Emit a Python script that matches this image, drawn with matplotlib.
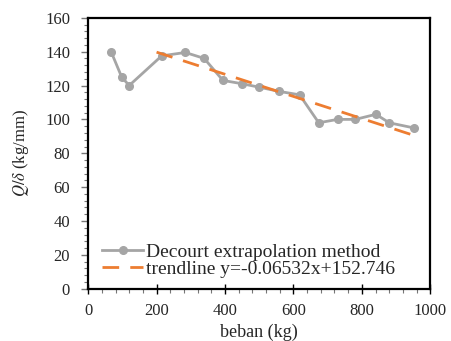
import matplotlib
matplotlib.use("Agg")
import matplotlib.pyplot as plt
from matplotlib.ticker import MultipleLocator
import numpy as np

# load (kg) vs Q/delta (kg/mm)
beban = [67, 98, 120, 215, 284, 339, 394, 451, 500, 559, 618, 674, 729, 781, 841, 880, 951]
q_delta = [140, 125, 120, 137.5, 139.5, 136, 123, 121, 119, 116.5, 114.5, 98, 100, 100, 103, 98, 95]

# trendline y = -0.06532x + 152.746
slope = -0.06532
intercept = 152.746
trend_x = [200, 950]

plt.rcParams['font.family'] = ['Liberation Serif', 'DejaVu Serif']
plt.rcParams['mathtext.fontset'] = 'stix'

fig, ax = plt.subplots(figsize=(4.52, 3.41), dpi=100)
fig.subplots_adjust(left=0.195, right=0.952, top=0.948, bottom=0.153)

ax.plot(beban, q_delta, color='#a5a5a5', lw=2, marker='o', ms=5.5,
        label='Decourt extrapolation method')
tx = np.array(trend_x)
ax.plot(tx, slope * tx + intercept, color='#ed7d31', lw=2, dashes=(6, 4),
        label='trendline y=-0.06532x+152.746')

ax.set_xlim(0, 1000)
ax.set_ylim(0, 160)
ax.xaxis.set_major_locator(MultipleLocator(200))
ax.xaxis.set_minor_locator(MultipleLocator(40))
ax.yaxis.set_major_locator(MultipleLocator(20))
ax.yaxis.set_minor_locator(MultipleLocator(4))
ax.tick_params(which='major', labelsize=12, labelcolor='#262626', width=1)
ax.tick_params(axis='x', which='major', direction='inout', length=7, pad=7)
ax.tick_params(axis='y', which='major', direction='out', length=5, pad=8, color='#777777')
ax.tick_params(which='minor', direction='out', length=3, width=0.8, color='#777777')
for s in ax.spines.values():
    s.set_linewidth(1.6)
    s.set_color('black')

ax.set_xlabel('beban (kg)', fontsize=13, labelpad=3, color='#262626')
ax.set_ylabel(r'$Q/\delta$ (kg/mm)', fontsize=12, labelpad=10, color='#262626')

leg = ax.legend(loc='lower left', frameon=False, fontsize=14, handlelength=2.1,
                handletextpad=0.15, labelspacing=0.0, borderaxespad=0.15,
                bbox_to_anchor=(0.01, 0.0))
for t in leg.get_texts():
    t.set_color('#262626')

fig.savefig('out.png', dpi=100)
